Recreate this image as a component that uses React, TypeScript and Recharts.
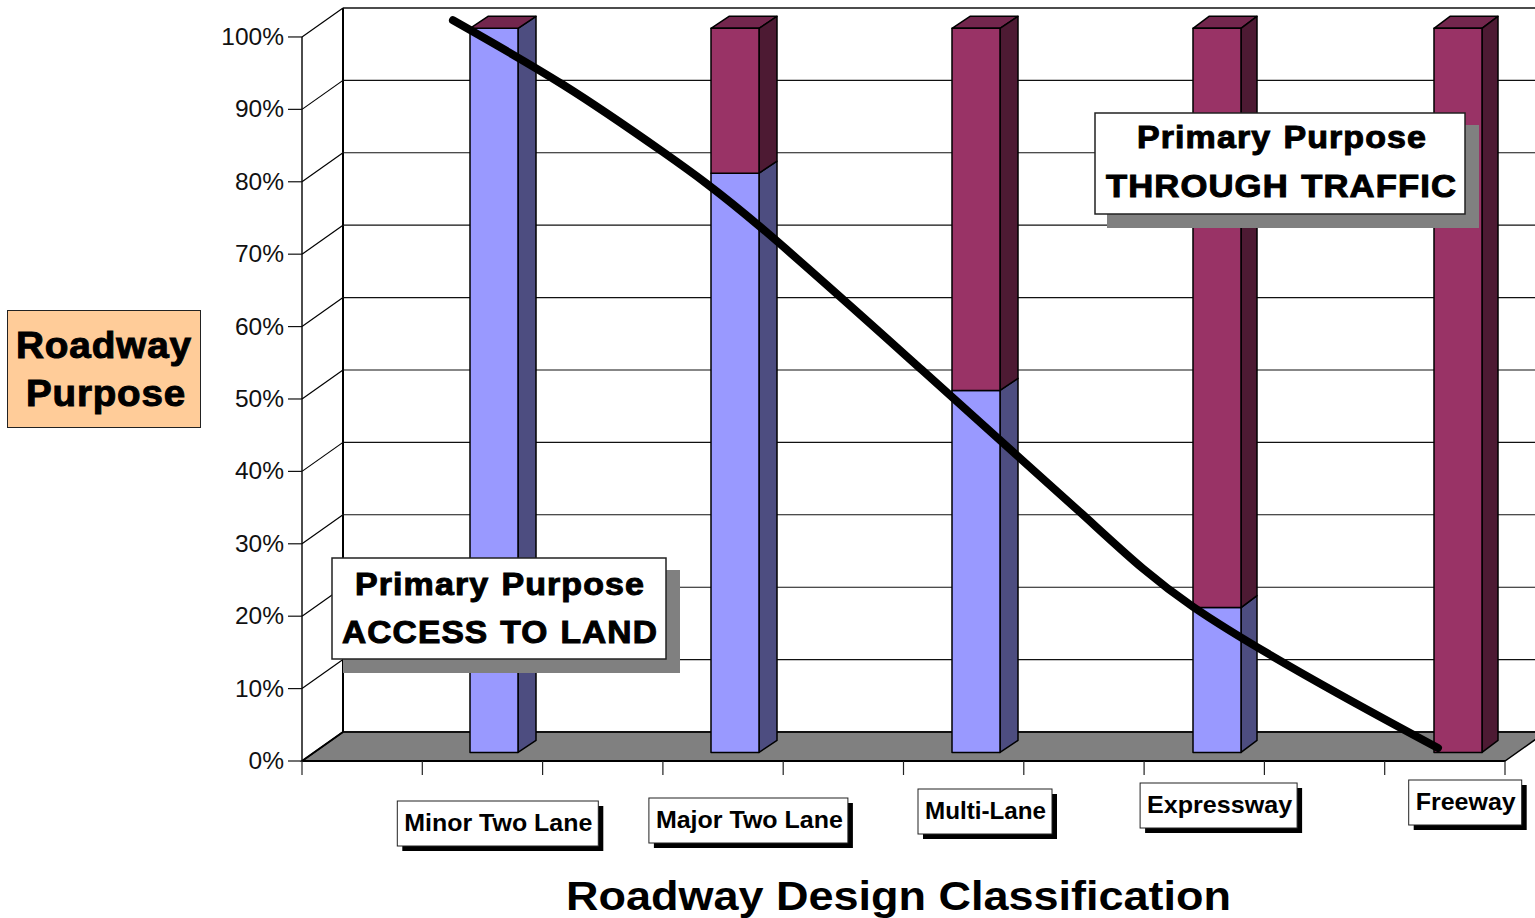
import React from "react";
import { ComposedChart, Bar, Line, XAxis, YAxis, CartesianGrid } from "recharts";

const categories = ["Minor Two Lane", "Major Two Lane", "Multi-Lane", "Expressway", "Freeway"];
const accessShare = [100, 80, 50, 20, 0];
const throughShare = [0, 20, 50, 80, 100];
const yTicks = [0, 10, 20, 30, 40, 50, 60, 70, 80, 90, 100];
const xTickPositions = [0, 1, 2, 3, 4, 5, 6, 7, 8, 9, 10];
const curvePos = [1.255, 2.17, 3.001, 3.807, 5.154, 6.492, 7.406, 8.603, 9.443];
const curvePct = [102.3, 93.4, 84.1, 73.8, 54.0, 34.0, 21.3, 9.4, 1.8];

const barRows = categories.map((name, i) => ({ name, access: accessShare[i], through: throughShare[i] }));
const curveRows = curvePos.map((pos, i) => ({ pos, pct: curvePct[i] }));

// layout of the pseudo-3D chart
const FONT = "'Liberation Sans', Arial, sans-serif";
const WALL_DX = 41;
const WALL_DY = 29;
const TICK_GAP = 72.4;
const BAR_SHIFT_X = 72;
const BAR_STEP_FIX = 0.4;
const BAR_SHIFT_Y = 8.6;
const BAR_DEPTHS = [18, 18, 18, 16, 16];
const BAR_DY = 12;

// box of each category label relative to its tick
const labelBoxes: Record<string, { dx: number; top: number; w: number; h: number; base: number; pad: number; tw: number }> = {
  "Minor Two Lane": { dx: -25, top: 801, w: 201, h: 45, base: 831, pad: 7, tw: 188 },
  "Major Two Lane": { dx: -14, top: 798, w: 199, h: 45, base: 828, pad: 7, tw: 187 },
  "Multi-Lane": { dx: 14.5, top: 789, w: 134, h: 45, base: 819, pad: 7, tw: 121 },
  Expressway: { dx: -4, top: 783, w: 157, h: 45, base: 813, pad: 7, tw: 145 },
  Freeway: { dx: 24, top: 780, w: 113, h: 45, base: 810, pad: 7, tw: 100 },
};

const makeBarShape = (front: string, side: string, top: string | null) => (p: any) => {
  const index = p.index ?? 0;
  const depth = BAR_DEPTHS[index] ?? 18;
  const x = p.x + BAR_SHIFT_X + index * BAR_STEP_FIX;
  const y = p.y - BAR_SHIFT_Y;
  const w = p.width;
  const h = p.height;
  const stroke = { stroke: "#000", strokeWidth: 1.5, strokeLinejoin: "round" as const };
  return (
    <g>
      {top && (
        <polygon
          points={`${x},${y} ${x + depth},${y - BAR_DY} ${x + w + depth},${y - BAR_DY} ${x + w},${y}`}
          fill={top}
          {...stroke}
        />
      )}
      {h > 0 && (
        <polygon
          points={`${x + w},${y} ${x + w + depth},${y - BAR_DY} ${x + w + depth},${y + h - BAR_DY} ${x + w},${y + h}`}
          fill={side}
          {...stroke}
        />
      )}
      {h > 0 && <rect x={x} y={y} width={w} height={h} fill={front} {...stroke} />}
    </g>
  );
};

const accessShape = makeBarShape("#9999FF", "#4D4D80", null);
const throughShape = makeBarShape("#993366", "#4D1A33", "#73264D");

const wallLine = (p: any) => {
  const { x1, y1, x2 } = p;
  if (y1 < 20) return <g key="plot-top" />;
  const backY = y1 - WALL_DY;
  const backX = x1 + WALL_DX;
  const isFloor = y1 > 750;
  const isTop = y1 < 45;
  return (
    <g key={`wall-${y1}`}>
      {isFloor && (
        <polygon
          points={`${x1},${y1} ${backX},${backY} ${x2 + WALL_DX},${backY} ${x2},${y1}`}
          fill="#808080"
          stroke="#000"
          strokeWidth={1.5}
        />
      )}
      <line x1={backX} y1={backY} x2={x2 + WALL_DX} y2={backY} stroke="#111" strokeWidth={isFloor ? 2 : isTop ? 1.6 : 1.1} />
      <line x1={x1} y1={y1} x2={backX} y2={backY} stroke="#000" strokeWidth={isFloor ? 2 : 1.2} />
      <line x1={x1 - 14} y1={y1} x2={x1} y2={y1} stroke="#111" strokeWidth={1.2} />
      {!isTop && <line x1={x1} y1={y1} x2={x1} y2={y1 - TICK_GAP} stroke="#000" strokeWidth={1.4} />}
      {!isTop && <line x1={backX} y1={backY} x2={backX} y2={backY - TICK_GAP} stroke="#000" strokeWidth={2} />}
    </g>
  );
};

const YTick = (p: any) => (
  <text x={284} y={p.y + 8} textAnchor="end" fontFamily={FONT} fontSize={24.5} fill="#111">
    {`${p.payload.value}%`}
  </text>
);

const CategoryTick = (p: any) => {
  const name = p.payload.value as string;
  const b = labelBoxes[name];
  if (!b) return <g />;
  const left = p.x + b.dx;
  return (
    <g>
      <rect x={left + 5} y={b.top + 5} width={b.w} height={b.h} fill="#000" />
      <rect x={left} y={b.top} width={b.w} height={b.h} fill="#fff" stroke="#222" strokeWidth={1} />
      <text
        x={left + b.pad}
        y={b.base}
        fontFamily={FONT}
        fontSize={24}
        fontWeight={700}
        fill="#000"
        textLength={b.tw}
        lengthAdjust="spacingAndGlyphs"
      >
        {name}
      </text>
    </g>
  );
};

const Heavy = ({ x, y, w, size, gap, children }: any) => (
  <text
    x={x}
    y={y}
    fontFamily={FONT}
    fontSize={size}
    fontWeight={700}
    fill="#000"
    stroke="#000"
    strokeWidth={1}
    letterSpacing={gap}
    wordSpacing={gap * 1.5}
    textLength={w}
    lengthAdjust="spacingAndGlyphs"
  >
    {children}
  </text>
);

const Callout = ({ box, shadow, lines }: any) => (
  <g>
    <rect x={shadow[0]} y={shadow[1]} width={shadow[2]} height={shadow[3]} fill="#808080" />
    <rect x={box[0]} y={box[1]} width={box[2]} height={box[3]} fill="#fff" stroke="#222" strokeWidth={1.5} />
    {lines.map((l: any) => (
      <Heavy key={l.text} x={l.x} y={l.y} w={l.w} size={31} gap={1}>
        {l.text}
      </Heavy>
    ))}
  </g>
);

export default function App() {
  return (
    <div style={{ position: "absolute", left: 0, top: 0, width: 1535, height: 918, overflow: "hidden", background: "#fff" }}>
      <ComposedChart
        width={1535}
        height={918}
        data={barRows}
        margin={{ top: 8, right: 30, bottom: 0, left: 0 }}
        barSize={48}
      >
        <CartesianGrid xAxisId="axisPos" vertical={false} horizontal={wallLine} />
        <XAxis
          xAxisId="axisPos"
          type="number"
          dataKey="pos"
          domain={[0, 10]}
          ticks={xTickPositions}
          interval={0}
          height={20}
          tickSize={14}
          tickFormatter={() => ""}
          stroke="#000"
          tickLine={{ stroke: "#222", strokeWidth: 1.2 }}
          axisLine={{ stroke: "#000", strokeWidth: 2 }}
        />
        <XAxis
          xAxisId="cat"
          type="category"
          dataKey="name"
          interval={0}
          height={137}
          tickLine={false}
          axisLine={false}
          tickSize={0}
          tick={CategoryTick}
        />
        <YAxis
          width={302}
          type="number"
          domain={[0, 104]}
          ticks={yTicks}
          interval={0}
          tickLine={false}
          axisLine={false}
          tickSize={0}
          tickMargin={0}
          tick={YTick}
        />
        <Bar xAxisId="cat" dataKey="access" stackId="share" shape={accessShape} isAnimationActive={false} />
        <Bar xAxisId="cat" dataKey="through" stackId="share" shape={throughShape} isAnimationActive={false} />
        <Line
          xAxisId="axisPos"
          data={curveRows}
          dataKey="pct"
          type="natural"
          stroke="#000"
          strokeWidth={8}
          strokeLinecap="round"
          dot={false}
          activeDot={false}
          isAnimationActive={false}
        />
      </ComposedChart>
      <svg width={1535} height={918} style={{ position: "absolute", left: 0, top: 0, pointerEvents: "none" }}>
        <Callout
          box={[332, 558, 334, 101]}
          shadow={[343, 570, 337, 103]}
          lines={[
            { text: "Primary Purpose", x: 355, y: 595, w: 290 },
            { text: "ACCESS TO LAND", x: 342, y: 643, w: 316 },
          ]}
        />
        <Callout
          box={[1095, 113, 370, 101]}
          shadow={[1107, 125, 372, 103]}
          lines={[
            { text: "Primary Purpose", x: 1137, y: 148, w: 290 },
            { text: "THROUGH TRAFFIC", x: 1106, y: 197, w: 351 },
          ]}
        />
        <rect x={7.5} y={310.5} width={193} height={117} fill="#FFCC99" stroke="#222" strokeWidth={1} />
        <Heavy x={16} y={358} w={176} size={37} gap={0.8}>Roadway</Heavy>
        <Heavy x={26} y={406} w={160} size={37} gap={0.8}>Purpose</Heavy>
        <text
          x={566}
          y={910}
          fontFamily={FONT}
          fontSize={41}
          fontWeight={700}
          fill="#000"
          textLength={665}
          lengthAdjust="spacingAndGlyphs"
        >
          Roadway Design Classification
        </text>
      </svg>
    </div>
  );
}
